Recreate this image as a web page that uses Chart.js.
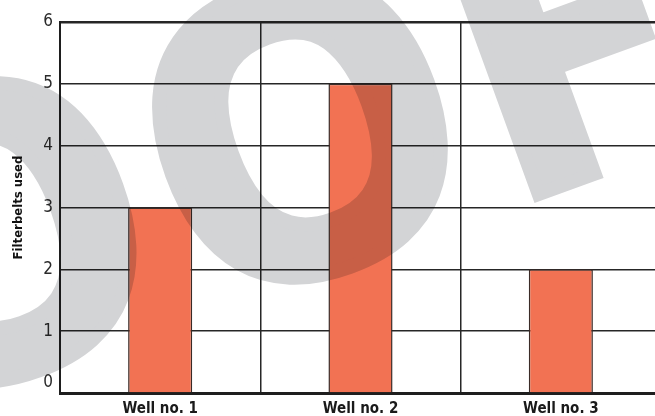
<!DOCTYPE html>
<html>
<head>
<meta charset="utf-8">
<script src="https://cdn.jsdelivr.net/npm/chart.js@4/dist/chart.umd.min.js"></script>
<style>
  html, body { margin: 0; padding: 0; background: #ffffff; overflow: hidden; }
  #wrap { width: 655px; height: 416px; overflow: hidden; position: relative; }
  canvas { display: block; }
</style>
</head>
<body>
<div id="wrap"><canvas id="chart" width="662" height="416"></canvas></div>
<script>
// Filterbelts used per well
const wells = ['Well no. 1', 'Well no. 2', 'Well no. 3'];
const filterbeltsUsed = [3, 5, 2];
const yTicks = [0, 1, 2, 3, 4, 5, 6];
const axisTitle = 'Filterbelts used';
const stampText = 'PROOF';

const narrow = '"Liberation Sans Narrow", "DejaVu Sans Condensed", "Liberation Sans", sans-serif';

// Large grey stamp laid over the finished chart. It is painted on its own layer
// first and then multiplied on, so bars and grid lines show through it.
// Letters are set by hand along a baseline tilted 20 degrees upwards.
const stamp = {
  id: 'stamp',
  afterDraw(chart) {
    const layer = document.createElement('canvas');
    layer.width = chart.canvas.width;
    layer.height = chart.canvas.height;
    const c = layer.getContext('2d');
    const size = 400;
    const weight = 14;
    const tracking = -10;
    c.fillStyle = '#d3d4d6';
    c.strokeStyle = '#d3d4d6';
    c.lineWidth = weight;
    c.lineJoin = 'miter';
    c.font = `bold ${size}px "Open Sans", "Liberation Sans", sans-serif`;
    c.textBaseline = 'alphabetic';
    c.textAlign = 'left';
    c.translate(300, 128);
    c.rotate(-20 * Math.PI / 180);
    const letters = stampText.split('');
    const m = letters.map(ch => c.measureText(ch));
    const om = c.measureText('O');
    const y = (om.actualBoundingBoxAscent - om.actualBoundingBoxDescent) / 2;
    const inkCentre = (mm, cx) => cx - (mm.actualBoundingBoxRight - mm.actualBoundingBoxLeft) / 2;
    const xs = [], ys = [y, y, y - 9, y, y];
    xs[3] = inkCentre(m[3], 0);                 // second O centred on the origin
    xs[2] = inkCentre(m[2], -328);              // first O
    xs[4] = 197 + m[4].actualBoundingBoxLeft;   // F stem
    xs[1] = xs[2] - m[1].width - tracking;
    xs[0] = xs[1] - m[0].width - tracking;
    letters.forEach((ch, i) => {
      c.fillText(ch, xs[i], ys[i]);
      c.strokeText(ch, xs[i], ys[i]);
    });
    const ctx = chart.ctx;
    ctx.save();
    ctx.setTransform(1, 0, 0, 1, 0, 0);
    ctx.globalCompositeOperation = 'multiply';
    ctx.drawImage(layer, 0, 0);
    ctx.restore();
  }
};

new Chart(document.getElementById('chart'), {
  type: 'bar',
  data: {
    labels: wells,
    datasets: [{
      data: filterbeltsUsed,
      backgroundColor: '#f27253',
      borderColor: '#3a2b27',
      borderWidth: 1.5,
      categoryPercentage: 1,
      barPercentage: 0.32
    }]
  },
  options: {
    responsive: false,
    animation: false,
    devicePixelRatio: 1,
    layout: { padding: { top: 22, right: 1, bottom: 0, left: 0 } },
    plugins: { legend: { display: false }, tooltip: { enabled: false } },
    scales: {
      x: {
        offset: true,
        grid: { offset: true, color: '#262626', lineWidth: 1.5, drawTicks: false },
        border: { color: '#1e1e1e', width: 3 },
        ticks: {
          color: '#1a1a1a',
          padding: 7,
          font: { family: narrow, size: 15, weight: 'bold' }
        },
        afterFit(scale) { scale.height = 23; }
      },
      y: {
        min: 0,
        max: 6,
        afterBuildTicks(scale) { scale.ticks = yTicks.map(v => ({ value: v })); },
        grid: {
          color: '#262626',
          lineWidth: ctx => (ctx.tick && ctx.tick.value === 6 ? 2.5 : 1.5),
          drawTicks: false
        },
        border: { color: '#1e1e1e', width: 2 },
        ticks: {
          color: '#2a2a2a',
          padding: 7,
          font: { family: narrow, size: 17 },
          // the zero label sits just above the base line
          callback: v => (v === 0 ? ['0', ''] : String(v))
        },
        title: {
          display: true,
          text: axisTitle,
          color: '#111111',
          padding: { top: 11, bottom: 0 },
          font: { family: narrow, size: 13, weight: 'bold' }
        },
        afterFit(scale) {
          scale.width = 60;
          scale.paddingBottom = 0;
        }
      }
    }
  },
  plugins: [stamp]
});
</script>
</body>
</html>
